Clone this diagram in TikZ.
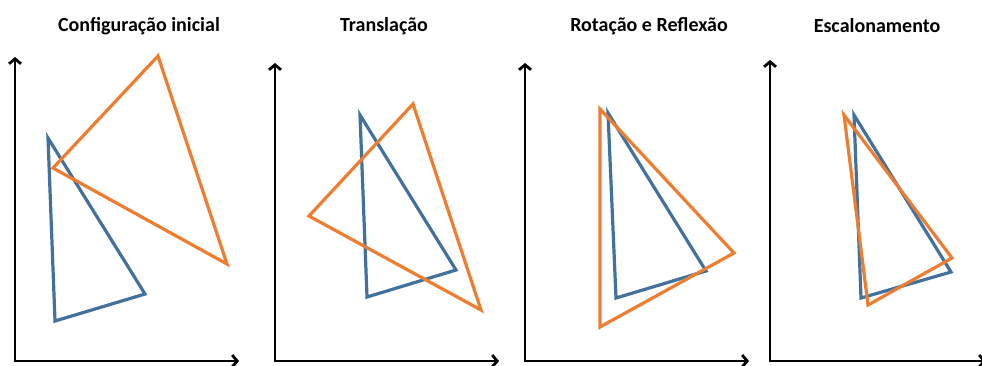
\documentclass[tikz,border=0pt]{standalone}
\usepackage{fontspec}
\setmainfont{Carlito}
\usetikzlibrary{arrows.meta}
\definecolor{triblue}{HTML}{41719C}
\definecolor{triorange}{HTML}{ED7D31}

\begin{document}
\begin{tikzpicture}[x=1pt,y=-1pt,
  axis/.style={{Straight Barb[length=5pt,width=12pt]}-{Straight Barb[length=5pt,width=12pt]},line width=2.8pt,line join=miter},
  tri/.style={line width=3.2pt,line join=miter},
  title/.style={font=\bfseries\fontsize{20}{24}\selectfont}]
  \useasboundingbox (0,0) rectangle (982,365);

  % eixos
  \foreach \ox/\ty/\xe [count=\i] in {15/57/239, 275/63/499, 525/63/749, 770/60/986}{
    \coordinate (o\i) at (\ox,361);
    \coordinate (y\i) at (\ox,\ty);
    \coordinate (x\i) at (\xe,361);
    \draw[axis] (y\i) -- (o\i) -- (x\i);
  }

  % titulos
  \node[title] (t1) at (139,26) {Configuração inicial};
  \node[title] (t2) at (384,26) {Translação};
  \node[title] (t3) at (649,26) {Rotação e Reflexão};
  \node[title] (t4) at (877,26) {Escalonamento};

  % configuracao inicial
  \draw[tri,triblue] (48,138) -- (55,321) -- (145,294) -- cycle;
  \draw[tri,triorange] (53,168) -- (158,56) -- (227,264) -- cycle;

  % translacao
  \draw[tri,triblue] (360,115) -- (367,297) -- (456,270) -- cycle;
  \draw[tri,triorange] (309,216) -- (413,104) -- (481,310) -- cycle;

  % rotacao e reflexao
  \draw[tri,triblue] (608,113) -- (616,298) -- (706,271) -- cycle;
  \draw[tri,triorange] (600,109) -- (600,327) -- (734,253) -- cycle;

  % escalonamento
  \draw[tri,triblue] (854,115) -- (861,298) -- (951,272) -- cycle;
  \draw[tri,triorange] (844,115) -- (868,305) -- (952,258) -- cycle;
\end{tikzpicture}
\end{document}
